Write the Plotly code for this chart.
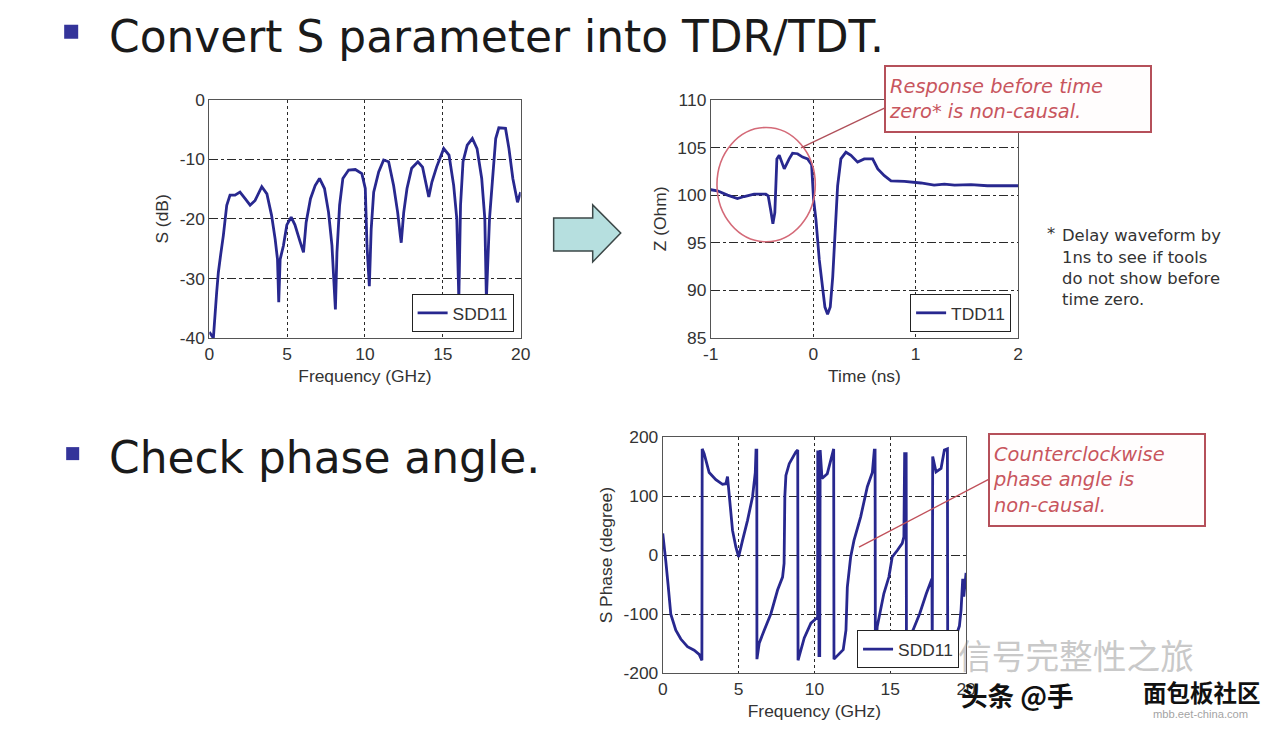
import plotly.graph_objects as go

# ---------------- data ----------------
freq_sdd11 = [0.0, 0.26, 0.47, 0.58, 0.73, 0.9, 1.12, 1.33, 1.65, 1.97, 2.3, 2.62, 2.94, 3.37, 3.7,
              4.0, 4.23, 4.38, 4.46, 4.55, 4.76, 4.98, 5.26, 5.5, 5.84, 6.05, 6.22, 6.5, 6.8, 7.08,
              7.4, 7.66, 7.88, 8.0, 8.1, 8.2, 8.37, 8.58, 8.95, 9.38, 9.8, 10.02, 10.13, 10.28, 10.4,
              10.56, 10.88, 11.2, 11.52, 11.84, 12.1, 12.27, 12.33, 12.49, 12.7, 13.0, 13.4, 13.7,
              13.9, 14.1, 14.3, 14.6, 15.06, 15.4, 15.7, 15.9, 16.03, 16.14, 16.3, 16.57, 16.9,
              17.2, 17.5, 17.7, 17.8, 18.0, 18.2, 18.4, 18.6, 19.03, 19.25, 19.5, 19.8, 20.0]
sdd11_db = [-39, -40, -32.4, -29, -26, -22.8, -17.7, -16, -16, -15.5, -16.6, -17.7, -16.9, -14.6, -15.8,
            -19.4, -23.4, -26.8, -34, -26.8, -24.5, -21, -19.7, -21, -23.9, -25.6, -20.6, -16.6, -14.4, -13.2,
            -14.9, -18.9, -24.5, -31.3, -35.2, -25.6, -17.7, -13.2, -11.8, -11.7, -12.4, -14.9, -24.5, -31.3, -21.7,
            -15.5, -12.1, -10.1, -10.4, -14.4, -18.9, -22.8, -24, -18.9, -14.9, -11.5, -10.4, -11.3,
            -13.8, -16.3, -13.8, -11.3, -8.2, -9.3, -14.4, -20, -33.5, -17.7, -10.4, -7.6, -6.5,
            -8.2, -13.2, -20, -33.5, -20, -13.2, -6.5, -4.7, -4.8, -8.2, -13.2, -17.2, -15.5]

time_ns = [-1.0, -0.935, -0.837, -0.74, -0.674, -0.577, -0.463, -0.44, -0.414, -0.394, -0.375, -0.355,
           -0.332, -0.283, -0.235, -0.202, -0.153, -0.104, -0.055, -0.016, 0.003, 0.026, 0.059, 0.091,
           0.114, 0.14, 0.166, 0.19, 0.212, 0.238, 0.27, 0.319, 0.368, 0.433, 0.498, 0.58, 0.63, 0.694,
           0.759, 0.89, 1.05, 1.18, 1.28, 1.38, 1.54, 1.7, 2.0]
tdd11_ohm = [100.56, 100.45, 100.0, 99.64, 99.85, 100.1, 100.1, 99.92, 98.33, 97.0, 98.15, 103.8,
             104.17, 102.75, 103.8, 104.4, 104.34, 103.99, 103.8, 103.18, 99.57, 97.45, 93.2, 90.0,
             88.25, 87.5, 88.25, 91.4, 96.0, 100.98, 103.8, 104.5, 104.17, 103.46, 103.8, 103.8, 102.75, 102.04,
             101.5, 101.44, 101.27, 101.05, 101.16, 101.05, 101.1, 100.98, 100.98]

freq_phase = [0.0, 0.09, 0.2, 0.35, 0.53, 0.86, 1.19, 1.63, 2.07, 2.4, 2.58, 2.6, 2.73, 3.06, 3.5, 3.94,
              4.16, 4.27, 4.38, 4.6, 4.82, 5.0, 5.26, 5.59, 5.92, 6.1, 6.15, 6.2, 6.21, 6.36, 6.69, 7.13,
              7.57, 7.9, 8.0, 8.05, 8.12, 8.34, 8.78, 8.9, 8.92, 9.33, 9.77, 10.15, 10.21, 10.22, 10.28,
              10.3, 10.35, 10.38, 10.5, 10.85, 11.15, 11.27, 11.29, 11.9, 12.08, 12.17, 12.39, 12.61,
              13.05, 13.49, 13.82, 13.95, 14.0, 14.02, 14.14, 14.36, 14.58, 14.91, 15.13, 15.46, 15.79,
              15.9, 15.95, 16.05, 16.07, 16.1, 16.5, 16.94, 17.38, 17.71, 17.75, 17.77, 17.8, 18.02,
              18.35, 18.57, 18.77, 18.79, 19.3, 19.56, 19.67, 19.78, 19.85, 20.0]
phase_deg = [37, 20, -10, -50, -100, -127, -142, -155, -161, -168, -178, 180, 172, 140, 128, 120,
             121, 133, 100, 42, 14, -3, 25, 59, 99, 140, 178, 178, -176, -149, -127, -99,
             -59, -37, -14, 100, 135, 155, 175, 178, -178, -140, -115, -105, -105, 175, 175,
             -170, -170, 178, 130, 138, 170, 180, -176, -160, -127, -54, -3, 25,
             65, 116, 140, 178, 178, -176, -121, -93, -65, -37, -3, 8, 20,
             31, 172, 172, -178, -149, -127, -99, -65, -45, -40, -178, 167, 141,
             147, 178, 180, -178, -140, -120, -93, -40, -70, -30]

freq_ticks = [0, 5, 10, 15, 20]
freq_ticktext = ["0", "5", "10", "15", "20"]
db_ticks = [0, -10, -20, -30, -40]
db_ticktext = ["0", "-10", "-20", "-30", "-40"]
time_ticks = [-1, 0, 1, 2]
time_ticktext = ["-1", "0", "1", "2"]
ohm_ticks = [85, 90, 95, 100, 105, 110]
ohm_ticktext = ["85", "90", "95", "100", "105", "110"]
deg_ticks = [-200, -100, 0, 100, 200]
deg_ticktext = ["-200", "-100", "0", "100", "200"]

# ---------------- layout geometry ----------------
# page keeps an 8px body margin and the capture is scaled slightly; compensate
OFF = 8
SX, SY = 0.985, 0.972
DY = 2.5
W, H = round(1280 / SX) - 2 * OFF, round(732 / SY) - 2 * OFF
FS = 2 / (SX + SY)
def px(x):
    return (x / SX - OFF) / W
def py(y):
    return 1 - ((y - DY) / SY - OFF) / H
def fs(s):
    return round(s * FS, 1)

LINE = "#28288f"
TICKFONT = dict(family="Liberation Sans, Arial", size=fs(17), color="#333")
TITLEFONT = dict(family="Liberation Sans, Arial", size=fs(17), color="#333")

def axis(domain, anchor, rng, tickvals, ticktext, title, griddash, standoff):
    return dict(domain=domain, anchor=anchor, range=rng, tickvals=tickvals, ticktext=ticktext,
                showgrid=True, gridcolor="#2a2a2a", gridwidth=1, griddash=griddash,
                zeroline=False, showline=True, mirror=True, linecolor="#555", linewidth=1,
                ticks="", tickfont=TICKFONT, fixedrange=True,
                title=dict(text=title, font=TITLEFONT, standoff=standoff))

fig = go.Figure()
fig.add_trace(go.Scatter(x=freq_sdd11, y=sdd11_db, mode="lines", name="SDD11",
                         line=dict(color=LINE, width=2.8), xaxis="x", yaxis="y", legend="legend"))
fig.add_trace(go.Scatter(x=time_ns, y=tdd11_ohm, mode="lines", name="TDD11",
                         line=dict(color=LINE, width=2.8), xaxis="x2", yaxis="y2", legend="legend2"))
fig.add_trace(go.Scatter(x=freq_phase, y=phase_deg, mode="lines", name="SDD11",
                         line=dict(color=LINE, width=2.8), xaxis="x3", yaxis="y3", legend="legend3"))

legend_style = dict(bgcolor="white", bordercolor="#222", borderwidth=1,
                    font=dict(family="Liberation Sans, Arial", size=fs(17), color="#333"),
                    xanchor="right", yanchor="bottom", itemclick=False, itemdoubleclick=False)

fig.update_layout(
    width=W, height=H, margin=dict(l=0, r=0, t=0, b=0),
    paper_bgcolor="#ffffff", plot_bgcolor="white", showlegend=True,
    xaxis=axis([px(209), px(520)], "y", [0, 20], freq_ticks, freq_ticktext, "Frequency (GHz)", "dot", 6),
    yaxis=axis([py(338), py(100)], "x", [-40, 0], db_ticks, db_ticktext, "S (dB)", "dashdot", 6),
    xaxis2=axis([px(710), px(1017)], "y2", [-1, 2], time_ticks, time_ticktext, "Time (ns)", "dot", 6),
    yaxis2=axis([py(338), py(100)], "x2", [85, 110], ohm_ticks, ohm_ticktext, "Z (Ohm)", "dashdot", 6),
    xaxis3=axis([px(662), px(965)], "y3", [0, 20], freq_ticks, freq_ticktext, "Frequency (GHz)", "dot", 6),
    yaxis3=axis([py(673), py(437)], "x3", [-200, 200], deg_ticks, deg_ticktext, "S Phase (degree)", "dashdot", 6),
    legend=dict(x=px(513), y=py(332), **legend_style),
    legend2=dict(x=px(1010), y=py(332), **legend_style),
    legend3=dict(x=px(958), y=py(668), **legend_style),
)

shapes = []
# bullets
shapes.append(dict(type="rect", xref="paper", yref="paper", x0=px(64), x1=px(78), y0=py(39), y1=py(25),
                   fillcolor="#34349a", line=dict(width=0)))
shapes.append(dict(type="rect", xref="paper", yref="paper", x0=px(66), x1=px(79), y0=py(460), y1=py(447),
                   fillcolor="#34349a", line=dict(width=0)))
# block arrow
arrow_pts = [(553, 218), (592, 218), (592, 205), (620, 233), (592, 262), (592, 251), (553, 251)]
path = "M " + " L ".join(f"{px(a):.5f},{py(b):.5f}" for a, b in arrow_pts) + " Z"
shapes.append(dict(type="path", xref="paper", yref="paper", path=path,
                   fillcolor="#b6dfdf", line=dict(color="#3c4848", width=1.5)))
# red circle around pre-zero response
shapes.append(dict(type="circle", xref="x2", yref="y2", x0=-0.94, x1=0.02, y0=95.1, y1=107.1,
                   line=dict(color="#d46a78", width=1.6)))
# callout pointer lines
shapes.append(dict(type="line", xref="paper", yref="paper", x0=px(800), y0=py(148), x1=px(884), y1=py(108),
                   line=dict(color="#b0505a", width=1.3)))
shapes.append(dict(type="line", xref="paper", yref="paper", x0=px(858), y0=py(547), x1=px(988), y1=py(479),
                   line=dict(color="#c0505a", width=1.3)))
fig.update_layout(shapes=shapes)

ann = []
TXT = "DejaVu Sans"
ann.append(dict(xref="paper", yref="paper", x=px(107), y=py(37), xanchor="left", yanchor="middle",
                text="Convert S parameter into TDR/TDT.", showarrow=False,
                font=dict(family=TXT, size=fs(43), color="#1a1a1a")))
ann.append(dict(xref="paper", yref="paper", x=px(107), y=py(457), xanchor="left", yanchor="middle",
                text="Check phase angle.", showarrow=False,
                font=dict(family=TXT, size=fs(43), color="#1a1a1a")))
# callout boxes
ann.append(dict(xref="paper", yref="paper", x=px(1017), y=py(99), xanchor="center", yanchor="middle",
                text="<i>Response before time<br>zero* is non-causal.</i>", showarrow=False, align="left",
                width=round(254 / SX), height=round(56 / SY), borderpad=3, borderwidth=2,
                bordercolor="#b5505a", bgcolor="#fffdfd",
                font=dict(family=TXT, size=fs(19), color="#c8555e")))
ann.append(dict(xref="paper", yref="paper", x=px(1096), y=py(480), xanchor="center", yanchor="middle",
                text="<i>Counterclockwise<br>phase angle is<br>non-causal.</i>", showarrow=False, align="left",
                width=round(205 / SX), height=round(82 / SY), borderpad=3, borderwidth=2,
                bordercolor="#b5505a", bgcolor="#fffdfd",
                font=dict(family=TXT, size=fs(19), color="#c8555e")))
# side note
note_lines = ["Delay waveform by", "1ns to see if tools", "do not show before", "time zero."]
note_y = [236, 258, 279, 300]
ann.append(dict(xref="paper", yref="paper", x=px(1044), y=py(234), xanchor="left", yanchor="middle",
                text="*", showarrow=False, font=dict(family=TXT, size=fs(16), color="#333")))
for t, yy in zip(note_lines, note_y):
    ann.append(dict(xref="paper", yref="paper", x=px(1059), y=py(yy), xanchor="left", yanchor="middle",
                    text=t, showarrow=False, font=dict(family=TXT, size=fs(16), color="#333")))
# watermarks
ann.append(dict(xref="paper", yref="paper", x=px(955), y=py(654), xanchor="left", yanchor="middle",
                text="信号完整性之旅", showarrow=False, opacity=0.45,
                font=dict(family="Noto Sans CJK SC", size=fs(33), color="#888")))
ann.append(dict(xref="paper", yref="paper", x=px(958), y=py(694), xanchor="left", yanchor="middle",
                text="<b>头条 @手</b>", showarrow=False,
                font=dict(family="Noto Sans CJK SC", size=fs(26), color="#111")))
ann.append(dict(xref="paper", yref="paper", x=px(1140), y=py(692), xanchor="left", yanchor="middle",
                text="<b>面包板社区</b>", showarrow=False,
                font=dict(family="Noto Sans CJK SC", size=fs(23), color="#111")))
ann.append(dict(xref="paper", yref="paper", x=px(1150), y=py(714), xanchor="left", yanchor="middle",
                text="mbb.eet-china.com", showarrow=False, opacity=0.6,
                font=dict(family="Liberation Sans", size=fs(11), color="#666")))
fig.update_layout(annotations=ann)

fig.write_html("out.html", config={"displayModeBar": False})
